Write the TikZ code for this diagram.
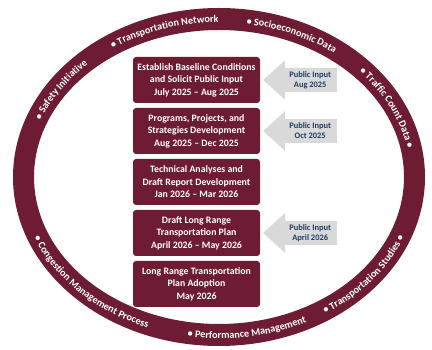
\documentclass[tikz,border=0pt]{standalone}
\usepackage{fontspec}
\setmainfont{Carlito}
\usetikzlibrary{decorations.text,calc}
\definecolor{maroon}{RGB}{110,28,52}
\definecolor{arrowgray}{RGB}{217,217,217}
\definecolor{navy}{RGB}{31,60,100}
\newcommand{\pubarrow}[3]{%
  \fill[inarrow] ($(#1.east)+(3,0)$) -- ++(22,20) -- ++(0,-8) -- ++(52,0) -- ++(0,-24)
    -- ++(-52,0) -- ++(0,-8) -- cycle;
  \node[inlabel] (#2) at ($(#1.east)+(50,0)$) {#3};}
\begin{document}
\begin{tikzpicture}[x=1pt,y=1pt,
  stepbox/.style={fill=maroon, rounded corners=3pt, minimum width=127pt, minimum height=46pt,
    text=white, font=\bfseries\fontsize{9.8}{12.4}\selectfont, align=center, inner sep=0pt},
  inlabel/.style={text=navy, font=\bfseries\fontsize{8.4}{10}\selectfont, align=center, inner sep=0pt},
  inarrow/.style={fill=arrowgray},
  ringtext/.style={decorate, decoration={text along path, text align=center,
    text={|\bfseries\fontsize{10.2}{11}\selectfont\color{white}|#1}}},
]
\useasboundingbox (0,0) rectangle (432,350);
\coordinate (C) at (219,173);
% ring
\fill[maroon, even odd rule] (C) ellipse[x radius=206pt, y radius=169pt]
  (C) ellipse[x radius=185pt, y radius=147pt];

% ring labels (top: clockwise, bottom: counter-clockwise)
\path[ringtext={• Safety Initiative}] ($(C)+(188:191.5pt and 154.5pt)$)
  arc[start angle=188, end angle=108, x radius=191.5pt, y radius=154.5pt];
\path[ringtext={• Transportation Network}] ($(C)+(148:191.5pt and 154.5pt)$)
  arc[start angle=148, end angle=68, x radius=191.5pt, y radius=154.5pt];
\path[ringtext={• Socioeconomic Data}] ($(C)+(106:191.5pt and 154.5pt)$)
  arc[start angle=106, end angle=26, x radius=191.5pt, y radius=154.5pt];
\path[ringtext={• Traffic Count Data •}] ($(C)+(65:191.5pt and 154.5pt)$)
  arc[start angle=65, end angle=-15, x radius=191.5pt, y radius=154.5pt];
\path[ringtext={• Congestion Management Process}] ($(C)+(184:199.5pt and 161.5pt)$)
  arc[start angle=184, end angle=264, x radius=199.5pt, y radius=161.5pt];
\path[ringtext={• Performance Management}] ($(C)+(239:199.5pt and 161.5pt)$)
  arc[start angle=239, end angle=319, x radius=199.5pt, y radius=161.5pt];
\path[ringtext={• Transportation Studies •}] ($(C)+(282:199.5pt and 161.5pt)$)
  arc[start angle=282, end angle=362, x radius=199.5pt, y radius=161.5pt];

% step boxes
\node[stepbox] (s1) at (196.5,270) {Establish Baseline Conditions\\and Solicit Public Input\\July 2025 – Aug 2025};
\node[stepbox] (s2) at (196.5,219) {Programs, Projects, and\\Strategies Development\\Aug 2025 – Dec 2025};
\node[stepbox] (s3) at (196.5,168) {Technical Analyses and\\Draft Report Development\\Jan 2026 – Mar 2026};
\node[stepbox] (s4) at (196.5,117) {Draft Long Range\\Transportation Plan\\April 2026 – May 2026};
\node[stepbox] (s5) at (196.5,66) {Long Range Transportation\\Plan Adoption\\May 2026};

% public input arrows
\pubarrow{s1}{p1}{Public Input\\Aug 2025}
\pubarrow{s2}{p2}{Public Input\\Oct 2025}
\pubarrow{s4}{p4}{Public Input\\April 2026}
\end{tikzpicture}
\end{document}
